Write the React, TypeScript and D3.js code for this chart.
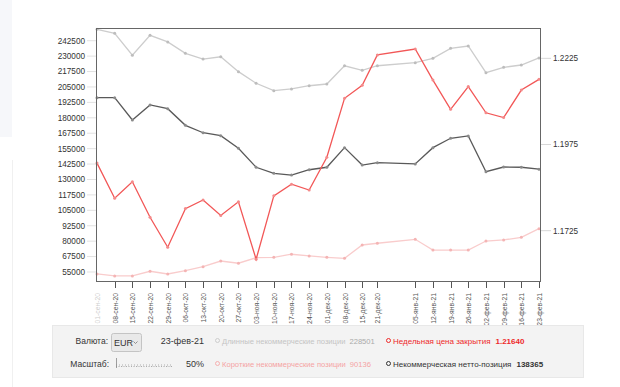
import React from 'react'
import * as d3 from 'd3'

// weekly report dates and their axis labels
const dates = ['2020-09-01', '2020-09-08', '2020-09-15', '2020-09-22', '2020-09-29', '2020-10-06', '2020-10-13', '2020-10-20', '2020-10-27', '2020-11-03', '2020-11-10', '2020-11-17', '2020-11-24', '2020-12-01', '2020-12-08', '2020-12-15', '2020-12-21', '2021-01-05', '2021-01-12', '2021-01-19', '2021-01-26', '2021-02-02', '2021-02-09', '2021-02-16', '2021-02-23']
const dateLabels = ['01-сен-20', '08-сен-20', '15-сен-20', '22-сен-20', '29-сен-20', '06-окт-20', '13-окт-20', '20-окт-20', '27-окт-20', '03-ноя-20', '10-ноя-20', '17-ноя-20', '24-ноя-20', '01-дек-20', '08-дек-20', '15-дек-20', '21-дек-20', '05-янв-21', '12-янв-21', '19-янв-21', '26-янв-21', '02-фев-21', '09-фев-21', '16-фев-21', '23-фев-21']

// non-commercial positions (left axis)
const longPos = [251700, 248500, 230700, 246900, 241500, 232300, 227600, 229500, 217400, 208000, 202000, 203400, 206000, 207400, 222200, 218500, 222200, 224700, 228200, 236300, 238200, 216600, 220900, 222800, 228501]
const shortPos = [53400, 51800, 51800, 55600, 53400, 56100, 59300, 63900, 62100, 66600, 66900, 69400, 68000, 66900, 66100, 76900, 78300, 81500, 72800, 72800, 72800, 80100, 81000, 83100, 90136]
const netPos = [196300, 196300, 178200, 190400, 187400, 173900, 167900, 165500, 155300, 139900, 135000, 133600, 137900, 139900, 155800, 141700, 143600, 142600, 155800, 163400, 165300, 136300, 140100, 139900, 138365]

// weekly close (right axis)
const closePrice = [1.1921, 1.1819, 1.1867, 1.1764, 1.1677, 1.1789, 1.1814, 1.1769, 1.1809, 1.1642, 1.1826, 1.1860, 1.1843, 1.1938, 1.2109, 1.2147, 1.2235, 1.2252, 1.2162, 1.2077, 1.2143, 1.2067, 1.2053, 1.2133, 1.2164]

const leftTicks = [242500, 230000, 217500, 205000, 192500, 180000, 167500, 155000, 142500, 130000, 117500, 105000, 92500, 80000, 67500, 55000]
const rightTicks = [1.2225, 1.1975, 1.1725]

const W = 620
const H = 387
const font = '"Liberation Sans", Arial, sans-serif'

const parse = d3.timeParse('%Y-%m-%d')

const App = () => {
    const xDates = dates.map(d => parse(d) as Date)

    //frame of the plot
    const left = 96.5, right = 540.5, top = 28.5, bottom = 281.5

    const x = d3.scaleTime()
        .domain([xDates[0], xDates[xDates.length - 1]])
        .range([97, 539])

    const yLeft = d3.scaleLinear()
        .domain([47700, 252800])
        .range([281, 28])

    const yRight = d3.scaleLinear()
        .domain([1.1579, 1.2313])
        .range([281, 28])

    const lineLeft = d3.line<number>()
        .x((d, i) => x(xDates[i]))
        .y(d => yLeft(d))

    const lineRight = d3.line<number>()
        .x((d, i) => x(xDates[i]))
        .y(d => yRight(d))

    const series = [
        {data: longPos, color: '#cdcdcd', dot: '#bdbdbd', line: lineLeft, y: yLeft},
        {data: shortPos, color: '#f9cccc', dot: '#f4b4b4', line: lineLeft, y: yLeft},
        {data: netPos, color: '#595959', dot: '#8a8a8a', line: lineLeft, y: yLeft},
        {data: closePrice, color: '#f25757', dot: '#f48a8a', line: lineRight, y: yRight},
    ]

    return (
        <svg width={W} height={H} style={{position: 'absolute', left: 0, top: 0, fontFamily: font}}>
            <rect x={0} y={0} width={W} height={H} fill="#fff" />
            {/* faint page panels on the left */}
            <rect x={0} y={0} width={12} height={137} fill="#f6f7fa" />
            <line x1={12.5} y1={160} x2={12.5} y2={387} stroke="#f0f0f0" />

            {/* left axis */}
            {leftTicks.map(t => (
                <g key={t}>
                    <line x1={87} x2={96} y1={yLeft(t)} y2={yLeft(t)} stroke="#e2e2e2" />
                    <text x={85} y={yLeft(t)} dy="0.35em" textAnchor="end" fontSize={8.2} fill="#333">{t}</text>
                </g>
            ))}

            {/* right axis */}
            {rightTicks.map(t => (
                <g key={t}>
                    <line x1={541} x2={551} y1={yRight(t)} y2={yRight(t)} stroke="#d8d8d8" />
                    <text x={553} y={yRight(t)} dy="0.35em" fontSize={8.2} fill="#333">{t.toFixed(4)}</text>
                </g>
            ))}

            {/* x axis */}
            {xDates.map((d, i) => {
                const px = Math.round(x(d)) + 0.5
                return (
                    <g key={i}>
                        {i > 0 && <line x1={px} x2={px} y1={bottom} y2={288} stroke="#555" />}
                        <text transform={`translate(${px + 2.5}, 293) rotate(-90)`} textAnchor="end"
                            fontSize={6.8} fill="#555" opacity={i === 0 ? 0.3 : 1}>{dateLabels[i]}</text>
                    </g>
                )
            })}

            {/* series */}
            {series.map((s, k) => (
                <g key={k}>
                    <path d={s.line(s.data) as string} fill="none" stroke={s.color} strokeWidth={1.3} />
                    {s.data.map((v, i) => (
                        <circle key={i} cx={x(xDates[i])} cy={s.y(v)} r={1.5} fill={s.dot} />
                    ))}
                </g>
            ))}

            <rect x={left} y={top} width={right - left} height={bottom - top} fill="none" stroke="#666" strokeWidth={1} />

            {/* control panel */}
            <rect x={52.5} y={325.5} width={531} height={52} fill="#f3f3f3" stroke="#e8e8e8" />

            <text x={108} y={343.5} textAnchor="end" fontSize={8.5} fill="#333">Валюта:</text>
            <rect x={111.5} y={333.5} width={30} height={18} rx={2} fill="#e9e9e9" stroke="#c4c4c4" />
            <text x={114} y={345.5} fontSize={9} fill="#333">EUR</text>
            <path d="M133.5,341.5 L135.5,343.5 L137.5,341.5" fill="none" stroke="#777" strokeWidth={0.8} />
            <text x={204} y={344} textAnchor="end" fontSize={9} fill="#333">23-фев-21</text>

            <text x={109} y={366.5} textAnchor="end" fontSize={8.5} fill="#333">Масштаб:</text>
            <line x1={116} x2={172} y1={366.5} y2={366.5} stroke="#aaa" strokeDasharray="1,1.5" />
            {d3.range(116, 173, 3).map(p => (
                <line key={p} x1={p + 0.5} x2={p + 0.5} y1={364} y2={366.5} stroke="#bbb" strokeWidth={0.6} />
            ))}
            <line x1={116.5} x2={116.5} y1={358} y2={368} stroke="#888" strokeWidth={0.8} />
            <text x={204} y={366.5} textAnchor="end" fontSize={9} fill="#333">50%</text>

            {/* legend */}
            <circle cx={217.5} cy={340.5} r={2} fill="none" stroke="#cdcdcd" />
            <text x={222} y={343.5} fontSize={7.6} fill="#c4c4c4">Длинные некоммерческие позиции<tspan dx={4} fill="#aaa">228501</tspan></text>
            <circle cx={217.5} cy={363.5} r={2} fill="none" stroke="#f7b0b0" />
            <text x={222} y={366.5} fontSize={7.6} fill="#f5a3a3">Короткие некоммерческие позиции<tspan dx={4}>90136</tspan></text>

            <circle cx={388.5} cy={340.5} r={2} fill="none" stroke="#ee2a2a" />
            <text x={393} y={343.5} fontSize={8} fill="#ee2a2a">Недельная цена закрытия<tspan dx={5} fontWeight="bold">1.21640</tspan></text>
            <circle cx={388.5} cy={363.5} r={2} fill="none" stroke="#333" />
            <text x={393} y={366.5} fontSize={8} fill="#333">Некоммерческая нетто-позиция<tspan dx={5} fontWeight="bold">138365</tspan></text>
        </svg>
    )
}

export default App
